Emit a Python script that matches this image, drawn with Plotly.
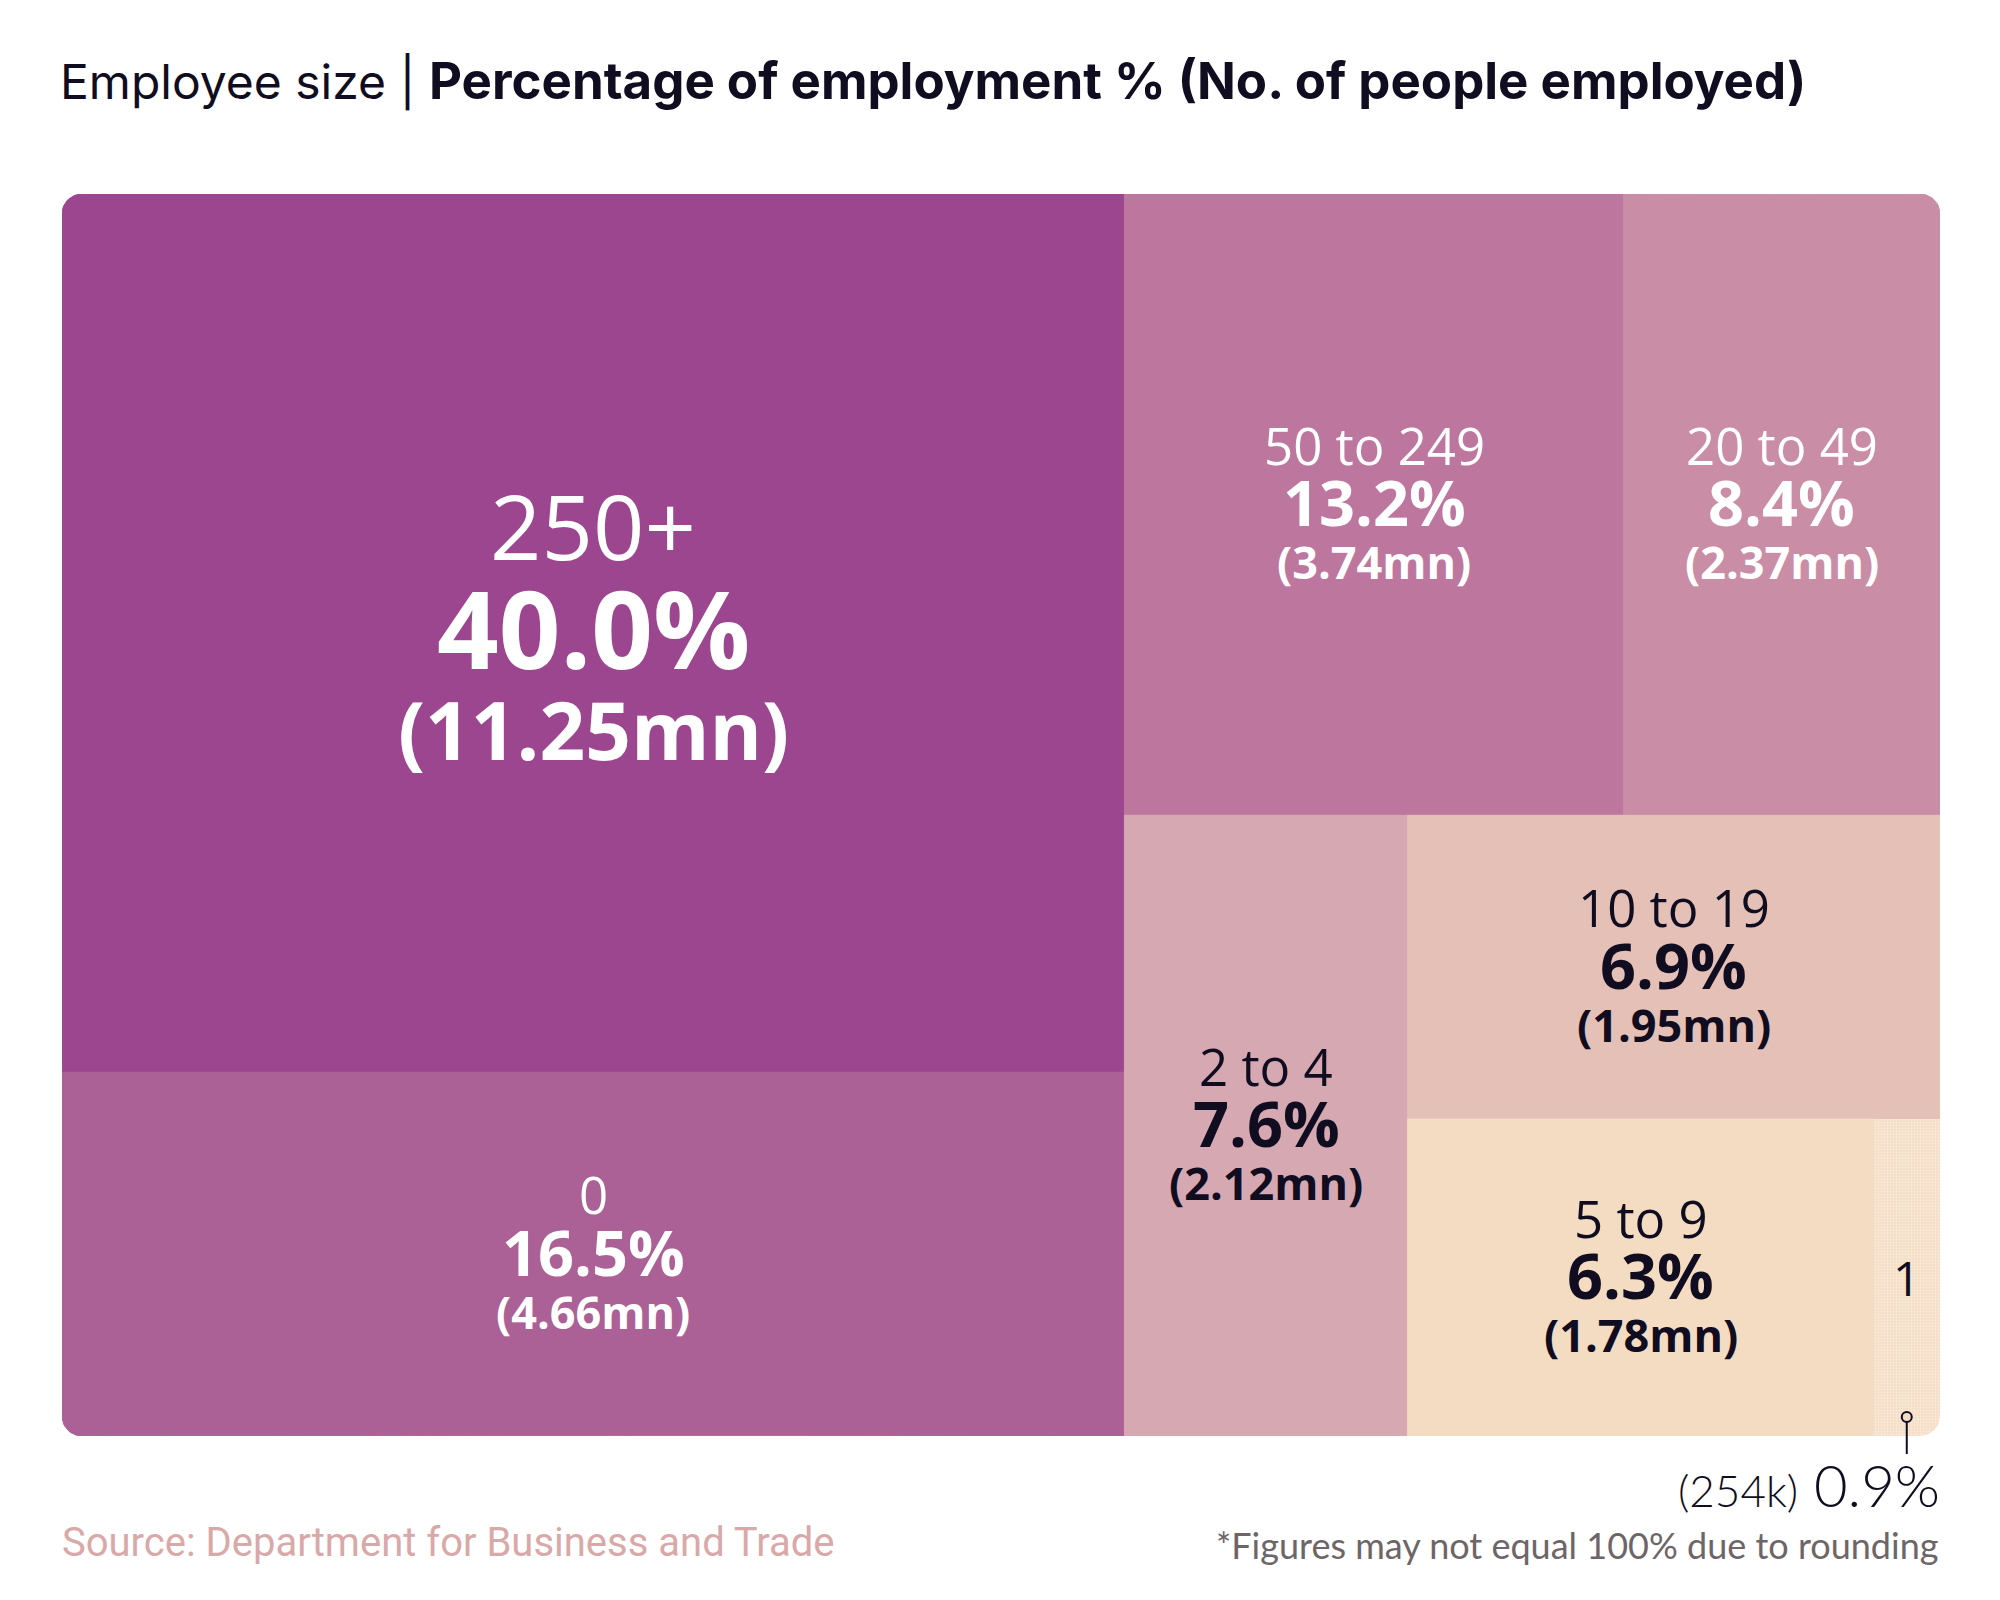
import numpy as np
import plotly.graph_objects as go

# employment by business size band (UK)
labels = ["250+", "0", "50 to 249", "20 to 49", "2 to 4", "10 to 19", "5 to 9", "1"]
employed_mn = [11.25, 4.66, 3.74, 2.37, 2.12, 1.95, 1.78, 0.254]
shares = [40.0, 16.5, 13.2, 8.4, 7.6, 6.9, 6.3, 0.9]
people = ["11.25mn", "4.66mn", "3.74mn", "2.37mn", "2.12mn", "1.95mn", "1.78mn", "254k"]

colors = ["#9C4690", "#AB6096", "#BD769D", "#C98DA6", "#D6A8B1", "#E5C0B7", "#F4DCC3", "#F4DCC3"]
light_cells = ["2 to 4", "10 to 19", "5 to 9", "1"]
callout_cells = ["1"]

# nesting of the cells (indices into the lists above); split direction alternates per level
groups = [[0, 1], [[2, 3], [4, [5, [6, 7]]]]]

WIDTH, HEIGHT = 2000, 1600
# page body adds 8px, so the margins are pulled in by that much
MARGIN = dict(l=54, r=68, t=186, b=172)
PLOT_W = WIDTH - MARGIN["l"] - MARGIN["r"]
PLOT_H = HEIGHT - MARGIN["t"] - MARGIN["b"]
RADIUS = 20
DARK = "#110D21"


def weight(node):
    if isinstance(node, int):
        return employed_mn[node]
    return sum(weight(n) for n in node)


def tile(node, x0, y0, x1, y1, depth, out):
    """slice-and-dice: even depth splits left to right, odd depth top to bottom"""
    if isinstance(node, int):
        out[node] = (x0, y0, x1, y1)
        return
    total = weight(node)
    pos = x0 if depth % 2 == 0 else y1
    for child in node:
        f = weight(child) / total
        if depth % 2 == 0:
            w = (x1 - x0) * f
            tile(child, pos, y0, pos + w, y1, depth + 1, out)
            pos += w
        else:
            h = (y1 - y0) * f
            tile(child, x0, pos - h, x1, pos, depth + 1, out)
            pos -= h


def cell_outline(x0, y0, x1, y1):
    """rectangle outline, rounding only the corners that sit on the outer frame"""
    rx, ry = RADIUS / PLOT_W, RADIUS / PLOT_H
    eps = 1e-9
    corners = [
        (x0, y1, x0 < eps and y1 > 1 - eps, x0 + rx, y1 - ry, 180, 90),
        (x1, y1, x1 > 1 - eps and y1 > 1 - eps, x1 - rx, y1 - ry, 90, 0),
        (x1, y0, x1 > 1 - eps and y0 < eps, x1 - rx, y0 + ry, 0, -90),
        (x0, y0, x0 < eps and y0 < eps, x0 + rx, y0 + ry, -90, -180),
    ]
    xs, ys = [], []
    for cx, cy, rounded, ax, ay, a0, a1 in corners:
        if rounded:
            t = np.radians(np.linspace(a0, a1, 16))
            xs.extend(ax + rx * np.cos(t))
            ys.extend(ay + ry * np.sin(t))
        else:
            xs.append(cx)
            ys.append(cy)
    xs.append(xs[0])
    ys.append(ys[0])
    return xs, ys


rects = {}
tile(groups, 0.0, 0.0, 1.0, 1.0, 0, rects)

fig = go.Figure()
annotations = []

for i, name in enumerate(labels):
    x0, y0, x1, y1 = rects[i]
    xs, ys = cell_outline(x0, y0, x1, y1)
    trace = dict(
        x=xs,
        y=ys,
        mode="lines",
        fill="toself",
        fillcolor=colors[i],
        line={"color": colors[i], "width": 1},
        name=name,
        hovertemplate=f"<b>{name}</b><br>{shares[i]:.1f}% ({people[i]})<extra></extra>",
    )
    if name in callout_cells:
        trace["line"] = {"color": colors[i], "width": 0}
        trace["fillpattern"] = {
            "shape": ".",
            "fgcolor": "#FFF8F0",
            "bgcolor": colors[i],
            "size": 3,
            "solidity": 0.45,
        }
    fig.add_trace(go.Scatter(**trace))

    cx, cy = (x0 + x1) / 2, (y0 + y1) / 2
    txt_color = DARK if name in light_cells else "white"

    if name in callout_cells:
        annotations.append(dict(
            x=cx, y=cy, text=name, showarrow=False,
            font={"family": "Open Sans", "size": 48, "color": txt_color},
        ))
        continue

    big = shares[i] > 30
    sizes = (90, 108, 80) if big else (51, 63, 45)
    shifts = (108, 6, -95) if big else (60, 3, -57)
    lines = [name, f"{shares[i]:.1f}%", f"({people[i]})"]
    weights = (400, 700, 700)
    for text, size, shift, w in zip(lines, sizes, shifts, weights):
        annotations.append(dict(
            x=cx, y=cy, text=text, showarrow=False, yshift=shift,
            xanchor="center", yanchor="middle",
            font={"family": "Open Sans", "size": size, "color": txt_color, "weight": w},
        ))

# call-out for the tiny "1" cell, below the frame
shapes = []
for name in callout_cells:
    i = labels.index(name)
    x0, y0, x1, y1 = rects[i]
    cx = (x0 + x1) / 2
    shapes.append(dict(
        type="line", xref="paper", yref="paper",
        xsizemode="pixel", ysizemode="pixel", xanchor=cx, yanchor=0,
        x0=0, x1=0, y0=14, y1=-18,
        line={"color": DARK, "width": 2},
    ))
    shapes.append(dict(
        type="circle", xref="paper", yref="paper",
        xsizemode="pixel", ysizemode="pixel", xanchor=cx, yanchor=0,
        x0=-5, x1=5, y0=14, y1=24,
        fillcolor=colors[i], line={"color": DARK, "width": 2},
    ))
    annotations.append(dict(
        x=1, y=0, xref="paper", yref="paper", xanchor="right", yanchor="middle",
        xshift=2, yshift=-48, showarrow=False,
        text=f"<span style='font-size:44px'>({people[i]})</span> {shares[i]:.1f}%",
        font={"family": "Lato", "size": 58, "color": DARK, "weight": 300},
    ))

# title and footer
annotations.append(dict(
    x=0, y=1, xref="paper", yref="paper", xanchor="left", yanchor="middle",
    xshift=-4, yshift=114, showarrow=False,
    text=("Employee size | <span style='font-size:51px'><b>"
          "Percentage of employment % (No. of people employed)</b></span>"),
    font={"family": "Inter", "size": 48, "color": DARK},
))
annotations.append(dict(
    x=0, y=0, xref="paper", yref="paper", xanchor="left", yanchor="middle",
    xshift=-2, yshift=-106, showarrow=False,
    text="Source: Department for Business and Trade",
    font={"family": "Roboto", "size": 40, "color": "#D9A9A9"},
))
annotations.append(dict(
    x=1, y=0, xref="paper", yref="paper", xanchor="right", yanchor="middle",
    xshift=0, yshift=-109, showarrow=False,
    text="*Figures may not equal 100% due to rounding",
    font={"family": "Lato", "size": 36, "color": "#6E6568"},
))

fig.update_layout(
    width=WIDTH,
    height=HEIGHT,
    margin=MARGIN,
    paper_bgcolor="white",
    plot_bgcolor="white",
    showlegend=False,
    xaxis={"range": [0, 1], "visible": False, "fixedrange": True},
    yaxis={"range": [0, 1], "visible": False, "fixedrange": True},
    annotations=annotations,
    shapes=shapes,
)

fig.write_html("out.html")
